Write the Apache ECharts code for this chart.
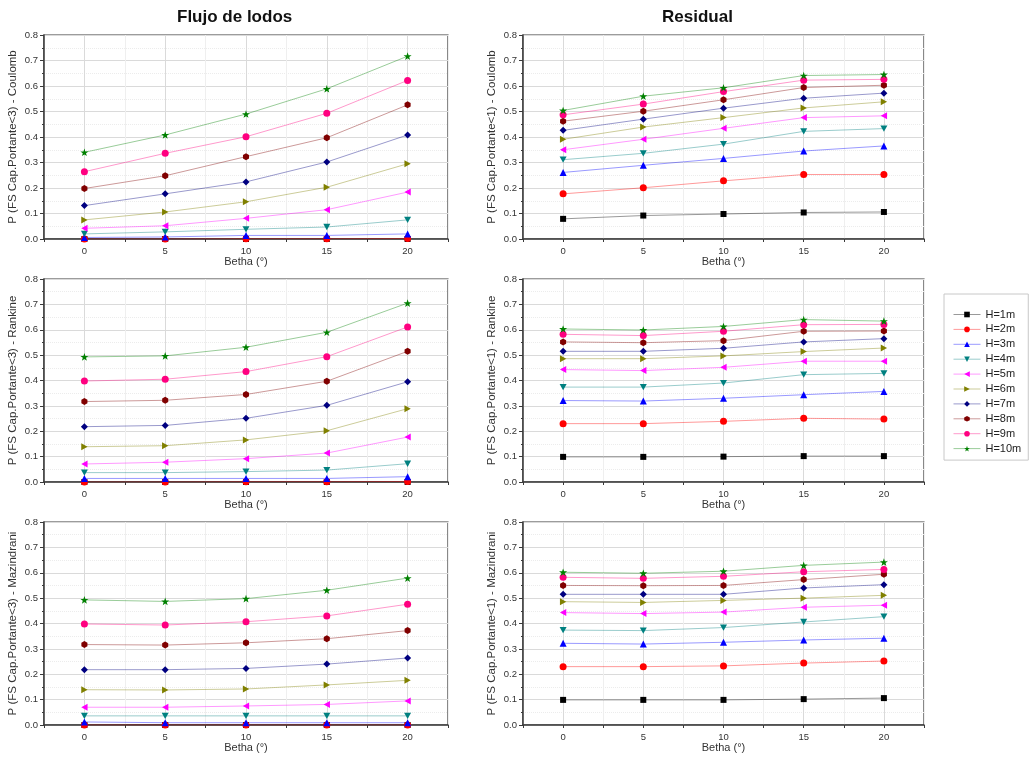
<!DOCTYPE html>
<html><head><meta charset="utf-8">
<script src="https://cdn.jsdelivr.net/npm/echarts@6/dist/echarts.min.js"></script>
<style>html,body{margin:0;padding:0;background:#fff}#c{width:1030px;height:761px}</style>
</head><body><div id="c"></div>
<script>
// ---- data ----
const betha = [0, 5, 10, 15, 20];
const xTickLabels = [0, 5, 10, 15, 20];
const yTickLabels = ['0.0','0.1','0.2','0.3','0.4','0.5','0.6','0.7','0.8'];
const seriesNames = ['H=1m','H=2m','H=3m','H=4m','H=5m','H=6m','H=7m','H=8m','H=9m','H=10m'];
const columnTitles = ['Flujo de lodos', 'Residual'];
const yAxisNames = [
  'P (FS Cap.Portante<3) - Coulomb', 'P (FS Cap.Portante<1) - Coulomb',
  'P (FS Cap.Portante<3) - Rankine', 'P (FS Cap.Portante<1) - Rankine',
  'P (FS Cap.Portante<3) - Mazindrani', 'P (FS Cap.Portante<1) - Mazindrani'
];
const xAxisName = 'Betha (°)';

// rows: H=1m ... H=10m, columns: betha 0..20
const flujoCoulomb = [
  [0.000, 0.000, 0.000, 0.000, 0.000],
  [0.000, 0.000, 0.001, 0.001, 0.002],
  [0.006, 0.008, 0.014, 0.014, 0.020],
  [0.020, 0.028, 0.038, 0.047, 0.075],
  [0.042, 0.052, 0.081, 0.115, 0.184],
  [0.075, 0.106, 0.146, 0.203, 0.295],
  [0.131, 0.177, 0.224, 0.302, 0.408],
  [0.198, 0.248, 0.323, 0.397, 0.526],
  [0.264, 0.336, 0.401, 0.493, 0.622],
  [0.340, 0.408, 0.490, 0.589, 0.717]
];
const residualCoulomb = [
  [0.079, 0.092, 0.098, 0.104, 0.106],
  [0.177, 0.201, 0.228, 0.253, 0.253],
  [0.261, 0.289, 0.316, 0.345, 0.365],
  [0.311, 0.336, 0.372, 0.422, 0.433],
  [0.350, 0.391, 0.434, 0.476, 0.483],
  [0.391, 0.439, 0.476, 0.514, 0.538],
  [0.426, 0.470, 0.513, 0.552, 0.572],
  [0.462, 0.501, 0.546, 0.594, 0.603],
  [0.487, 0.529, 0.578, 0.623, 0.626],
  [0.504, 0.560, 0.593, 0.641, 0.645]
];
const flujoRankine = [
  [0.000, 0.000, 0.000, 0.000, 0.000],
  [0.000, 0.000, 0.001, 0.001, 0.002],
  [0.014, 0.014, 0.014, 0.014, 0.021],
  [0.037, 0.037, 0.041, 0.047, 0.072],
  [0.071, 0.078, 0.092, 0.114, 0.177],
  [0.139, 0.143, 0.166, 0.202, 0.289],
  [0.218, 0.223, 0.251, 0.302, 0.395],
  [0.317, 0.322, 0.345, 0.397, 0.515],
  [0.398, 0.405, 0.435, 0.494, 0.611],
  [0.493, 0.497, 0.531, 0.590, 0.705]
];
const residualRankine = [
  [0.099, 0.099, 0.100, 0.102, 0.102],
  [0.230, 0.230, 0.239, 0.251, 0.248],
  [0.321, 0.319, 0.330, 0.344, 0.357],
  [0.374, 0.374, 0.390, 0.423, 0.428],
  [0.443, 0.439, 0.452, 0.476, 0.476],
  [0.486, 0.486, 0.497, 0.514, 0.528],
  [0.515, 0.515, 0.527, 0.552, 0.565],
  [0.552, 0.549, 0.557, 0.594, 0.595],
  [0.582, 0.577, 0.594, 0.620, 0.621],
  [0.603, 0.599, 0.613, 0.640, 0.634]
];
const flujoMazindrani = [
  [0.000, 0.000, 0.000, 0.000, 0.000],
  [0.000, 0.000, 0.000, 0.000, 0.000],
  [0.012, 0.009, 0.009, 0.009, 0.009],
  [0.036, 0.036, 0.036, 0.036, 0.036],
  [0.070, 0.070, 0.075, 0.081, 0.095],
  [0.139, 0.138, 0.142, 0.158, 0.176],
  [0.218, 0.218, 0.223, 0.240, 0.264],
  [0.317, 0.315, 0.324, 0.340, 0.372],
  [0.398, 0.394, 0.407, 0.430, 0.476],
  [0.493, 0.487, 0.498, 0.531, 0.579]
];
const residualMazindrani = [
  [0.099, 0.099, 0.099, 0.102, 0.106],
  [0.230, 0.230, 0.233, 0.244, 0.252],
  [0.322, 0.319, 0.326, 0.335, 0.342],
  [0.374, 0.372, 0.384, 0.406, 0.427],
  [0.443, 0.439, 0.445, 0.464, 0.472],
  [0.486, 0.483, 0.491, 0.500, 0.511],
  [0.515, 0.515, 0.515, 0.540, 0.553],
  [0.550, 0.549, 0.550, 0.573, 0.594],
  [0.582, 0.578, 0.586, 0.604, 0.613],
  [0.602, 0.598, 0.606, 0.629, 0.642]
];
const panels = [flujoCoulomb, residualCoulomb, flujoRankine, residualRankine, flujoMazindrani, residualMazindrani];

// ---- styles ----
const colors = ['#000000','#FF0000','#0000FF','#008080','#FF00FF','#808000','#000080','#800000','#FF0080','#008000'];
const symbols = [
  'rect', 'circle', 'triangle',
  'path://M0,0 L10,0 L5,9 Z',
  'path://M9,0 L9,10 L0,5 Z',
  'path://M0,0 L9,5 L0,10 Z',
  'diamond',
  'path://M5,0 L9.33,2.5 L9.33,7.5 L5,10 L0.67,7.5 L0.67,2.5 Z',
  'circle',
  'path://M5,0 L6.18,3.45 L9.76,3.45 L6.91,5.6 L7.94,9.05 L5,7 L2.06,9.05 L3.09,5.6 L0.24,3.45 L3.82,3.45 Z'
];
const symbolSizes = [6, 7, 7, 7, 7, 7, 7, 7, 7, 8];

const colLeft = [44, 523], colWidth = [404, 401];
const rowTop = [35, 279, 522], rowHeight = [204, 203, 203];
const font = 'Liberation Sans, Arial, sans-serif';
const axisColor = '#3a3a3a';

const grids = [], xAxes = [], yAxes = [], series = [];
panels.forEach((vals, p) => {
  const r = Math.floor(p / 2), c = p % 2;
  grids.push({left: colLeft[c], top: rowTop[r], width: colWidth[c], height: rowHeight[r],
    show: true, borderColor: axisColor, borderWidth: 1.2, backgroundColor: 'transparent'});
  xAxes.push({
    type: 'value', gridIndex: p, min: -2.5, max: 22.5, interval: 2.5,
    name: xAxisName, nameLocation: 'middle', nameGap: 16,
    nameTextStyle: {fontSize: 11, color: '#333', fontFamily: font},
    axisLine: {show: true, onZero: false, lineStyle: {color: axisColor, width: 1.5}},
    axisTick: {show: true, length: 3, lineStyle: {color: axisColor}},
    axisLabel: {fontSize: 9.5, color: '#333', fontFamily: font, margin: 7,
      formatter: v => (xTickLabels.indexOf(v) >= 0 ? String(v) : '')},
    splitLine: {show: true, lineStyle: {color: ['#efefef', '#dadada'], width: 1}}
  });
  yAxes.push({
    type: 'value', gridIndex: p, min: 0, max: 0.8, interval: 0.1,
    name: yAxisNames[p], nameLocation: 'middle', nameGap: 25,
    nameTextStyle: {fontSize: 11.5, color: '#333', fontFamily: font},
    axisLine: {show: true, onZero: false, lineStyle: {color: axisColor, width: 1.5}},
    axisTick: {show: true, length: 4, lineStyle: {color: axisColor}},
    minorTick: {show: true, splitNumber: 2, length: 2, lineStyle: {color: axisColor}},
    axisLabel: {fontSize: 9.5, color: '#333', fontFamily: font, margin: 6,
      formatter: v => yTickLabels[Math.round(v * 10)]},
    splitLine: {show: true, lineStyle: {color: '#dadada', width: 1}},
    minorSplitLine: {show: true, lineStyle: {color: '#ececec', type: 'dotted'}}
  });
  vals.forEach((row, i) => {
    series.push({
      type: 'line', name: seriesNames[i], xAxisIndex: p, yAxisIndex: p,
      data: betha.map((b, j) => [b, row[j]]),
      symbol: symbols[i], symbolSize: symbolSizes[i], symbolKeepAspect: true,
      showAllSymbol: true,
      itemStyle: {color: colors[i]},
      lineStyle: {color: colors[i], width: 1, opacity: 0.4},
      emphasis: {disabled: true}, animation: false
    });
  });
});

const chart = echarts.init(document.getElementById('c'), null, {renderer: 'canvas'});
chart.setOption({
  backgroundColor: '#fff',
  animation: false,
  textStyle: {fontFamily: font},
  grid: grids, xAxis: xAxes, yAxis: yAxes, series: series,
  legend: {
    data: seriesNames, orient: 'vertical', left: 944, top: 294,
    padding: [15, 7, 6, 9], itemWidth: 27, itemHeight: 7, itemGap: 3.9,
    borderColor: '#c8c8c8', borderWidth: 1,
    lineStyle: {opacity: 0.4, width: 1},
    textStyle: {fontSize: 11, color: '#222', fontFamily: font},
    selectedMode: false
  },
  graphic: [
    {type: 'text', left: 237 - 60, top: 9, style: {text: columnTitles[0], fontSize: 17, fontWeight: 'bold', fill: '#111', fontFamily: font, width: 120, align: 'center'}},
    {type: 'text', left: 722 - 60, top: 9, style: {text: columnTitles[1], fontSize: 17, fontWeight: 'bold', fill: '#111', fontFamily: font, width: 120, align: 'center'}}
  ]
});
</script></body></html>
